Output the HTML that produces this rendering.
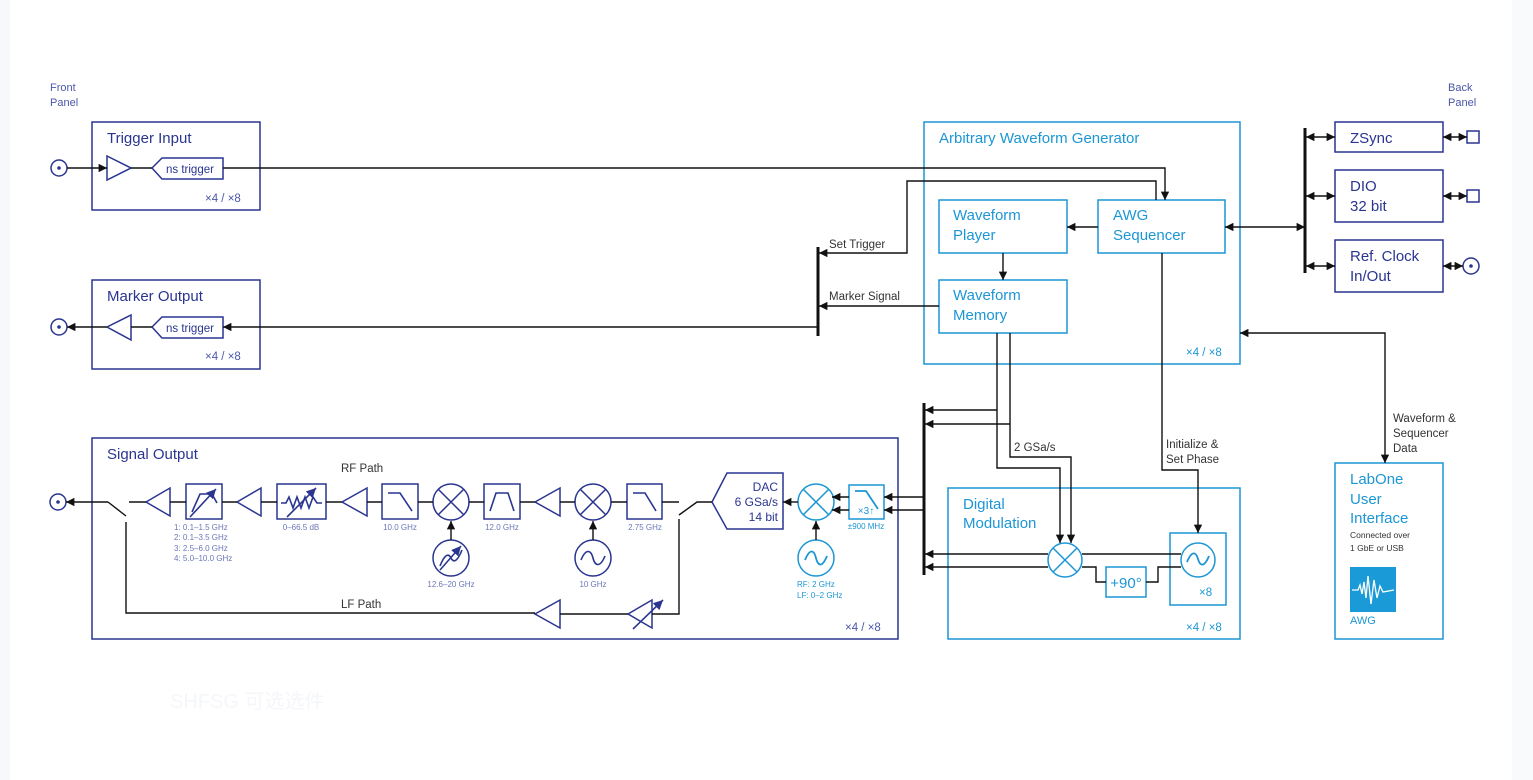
<!DOCTYPE html>
<html><head><meta charset="utf-8"><style>
html,body{margin:0;padding:0;background:#fff;width:1533px;height:780px;overflow:hidden}
svg{display:block}
text{font-family:"Liberation Sans","Noto Sans CJK SC",sans-serif}
</style></head><body>
<svg width="1533" height="780" viewBox="0 0 1533 780" xmlns="http://www.w3.org/2000/svg">
<defs>
<marker id="a" viewBox="0 0 10 10" refX="10" refY="5" markerWidth="6" markerHeight="6" orient="auto-start-reverse"><path d="M0,0 L10,5 L0,10z" fill="#111"/></marker>
<marker id="ab" viewBox="0 0 10 10" refX="10" refY="5" markerWidth="6" markerHeight="6" orient="auto-start-reverse"><path d="M0,0 L10,5 L0,10z" fill="#2a3590"/></marker>
</defs>
<rect x="0" y="0" width="10" height="780" fill="#f7f8fc"/>
<rect x="1512" y="0" width="21" height="780" fill="#f9fafc"/>
<text x="170" y="708" font-size="20" fill="#f4f6fa">SHFSG 可选选件</text>

<g fill="none" stroke="#2a3590" stroke-width="1.5">
<rect x="92" y="122" width="168" height="88"/>
<circle cx="59" cy="168" r="8"/>
<path d="M107,156 L131,168 L107,180z"/>
<path d="M152,168 L162,158 L223,158 L223,179 L162,179z"/>
<rect x="92" y="280" width="168" height="89"/>
<circle cx="59" cy="327" r="8"/>
<path d="M131,315 L107,327 L131,340z"/>
<path d="M152,327 L162,317 L223,317 L223,338 L162,338z"/>
<rect x="1335" y="122" width="108" height="30"/>
<rect x="1335" y="170" width="108" height="52"/>
<rect x="1335" y="240" width="108" height="52"/>
<rect x="1467" y="131" width="12" height="12"/>
<rect x="1467" y="190" width="12" height="12"/>
<circle cx="1471" cy="266" r="8"/>
<rect x="92" y="438" width="806" height="201"/>
<circle cx="58" cy="502" r="8"/>
<path d="M146,502 L170,488 L170,516z"/>
<rect x="186" y="484" width="36" height="35"/>
<path d="M237,502 L261,488 L261,516z"/>
<rect x="277" y="484" width="49" height="35"/>
<path d="M342,502 L367,488 L367,516z"/>
<rect x="382" y="484" width="36" height="35"/>
<circle cx="451" cy="502" r="18"/><path d="M438,489 L464,515 M464,489 L438,515"/>
<circle cx="451" cy="558" r="18"/>
<rect x="484" y="484" width="36" height="35"/>
<path d="M535,502 L560,488 L560,516z"/>
<circle cx="593" cy="502" r="18"/><path d="M580,489 L606,515 M606,489 L580,515"/>
<circle cx="593" cy="558" r="18"/>
<rect x="627" y="484" width="35" height="35"/>
<path d="M712,502 L727,473 L783,473 L783,529 L727,529z"/>
<path d="M535,614 L560,600 L560,628z"/>
<path d="M628,614 L652,600 L652,628z"/>
</g>
<g fill="none" stroke="#2a3590" stroke-width="1.6">
<path d="M192,512 L200,494 L212,494 L217,503"/>
<path d="M190,517 L216,489" marker-end="url(#ab)"/>
<path d="M281,503 L286,503 L289,497 L293,508 L297,497 L301,508 L305,497 L309,508 L313,497 L317,503 L322,503"/>
<path d="M287,517 L316,488" marker-end="url(#ab)"/>
<path d="M388,493 L400,493 L412,511"/>
<path d="M490,511 L496,493 L508,493 L514,511"/>
<path d="M633,493 L645,493 L656,511"/>
<path d="M440,566 C444,556 448,552 451,558 C454,564 458,560 462,550"/>
<path d="M440,570 L461,546" marker-end="url(#ab)"/>
<path d="M581,560 C586,548 591,550 593,558 C595,566 600,568 605,556"/>
<path d="M633,629 L663,600" marker-end="url(#ab)"/>
</g>

<g fill="none" stroke="#1c96d4" stroke-width="1.5">
<rect x="924" y="122" width="316" height="242"/>
<rect x="939" y="200" width="128" height="53"/>
<rect x="1098" y="200" width="127" height="53"/>
<rect x="939" y="280" width="128" height="53"/>
<rect x="948" y="488" width="292" height="151"/>
<circle cx="1065" cy="560" r="17"/><path d="M1053,548 L1077,572 M1077,548 L1053,572"/>
<rect x="1170" y="533" width="56" height="72"/>
<circle cx="1198" cy="560" r="17"/>
<path d="M1187,562 C1192,550 1196,552 1198,559 C1200,566 1204,568 1209,556" stroke-width="1.8"/>
<rect x="1106" y="567" width="40" height="30"/>
<rect x="1335" y="463" width="108" height="176"/>
<circle cx="816" cy="502" r="18"/><path d="M803,489 L829,515 M829,489 L803,515"/>
<circle cx="816" cy="558" r="18"/>
<path d="M805,560 C810,548 814,550 816,558 C818,566 822,568 827,556" stroke-width="1.8"/>
<rect x="849" y="485" width="35" height="34"/>
<path d="M855,491 L866,491 L878,509" stroke-width="1.8"/>
</g>
<rect x="1350" y="567" width="46" height="45" fill="#1a9ad6"/>
<path d="M1352,590 L1358,590 L1360,585 L1362,594 L1364,582 L1366,598 L1368,576 L1371,604 L1374,580 L1377,598 L1380,586 L1383,592 L1394,590" fill="none" stroke="#fff" stroke-width="1.3"/>

<g fill="none" stroke="#111" stroke-width="1.4">
<path d="M67,168 L107,168" marker-end="url(#a)"/>
<path d="M131,168 L152,168"/>
<path d="M223,168 L1165,168 L1165,200" marker-end="url(#a)"/>
<path d="M1156,200 L1156,181 L907,181 L907,253 L819,253" marker-end="url(#a)"/>
<path d="M939,306 L819,306" marker-end="url(#a)"/>
<path d="M818,327 L223,327" marker-end="url(#a)"/>
<path d="M152,327 L131,327"/>
<path d="M107,327 L67,327" marker-end="url(#a)"/>
<path d="M1098,227 L1067,227" marker-end="url(#a)"/>
<path d="M1003,253 L1003,280" marker-end="url(#a)"/>
<path d="M1225,227 L1305,227" marker-start="url(#a)" marker-end="url(#a)"/>
<path d="M1306,137 L1335,137" marker-start="url(#a)" marker-end="url(#a)"/>
<path d="M1306,196 L1335,196" marker-start="url(#a)" marker-end="url(#a)"/>
<path d="M1306,266 L1335,266" marker-start="url(#a)" marker-end="url(#a)"/>
<path d="M1443,137 L1467,137" marker-start="url(#a)" marker-end="url(#a)"/>
<path d="M1443,196 L1467,196" marker-start="url(#a)" marker-end="url(#a)"/>
<path d="M1443,266 L1463,266" marker-start="url(#a)" marker-end="url(#a)"/>
<path d="M1385,463 L1385,333 L1240,333" marker-start="url(#a)" marker-end="url(#a)"/>
<path d="M997,333 L997,468 L1060,468 L1060,543" marker-end="url(#a)"/>
<path d="M1010,333 L1010,457 L1071,457 L1071,543" marker-end="url(#a)"/>
<path d="M997,410 L925,410" marker-end="url(#a)"/>
<path d="M1010,424 L925,424" marker-end="url(#a)"/>
<path d="M1162,253 L1162,470 L1198,470 L1198,533" marker-end="url(#a)"/>
<path d="M1048,554 L925,554" marker-end="url(#a)"/>
<path d="M1048,567 L925,567" marker-end="url(#a)"/>
<path d="M1082,554 L1181,554"/>
<path d="M1082,567 L1096,567 L1096,582 L1106,582"/>
<path d="M1146,582 L1158,582 L1158,567 L1181,567"/>
<path d="M923,497 L884,497" marker-end="url(#a)"/>
<path d="M923,510 L884,510" marker-end="url(#a)"/>
<path d="M849,497 L832,497" marker-end="url(#a)"/>
<path d="M849,510 L832,510" marker-end="url(#a)"/>
<path d="M798,502 L783,502" marker-end="url(#a)"/>
<path d="M816,540 L816,521" marker-end="url(#a)"/>
<path d="M451,540 L451,521" marker-end="url(#a)"/>
<path d="M593,540 L593,521" marker-end="url(#a)"/>
<path d="M108,502 L66,502" marker-end="url(#a)"/>
<path d="M108,502 L126,516"/>
<path d="M129,502 L146,502 M170,502 L186,502 M222,502 L237,502 M261,502 L277,502 M326,502 L342,502 M367,502 L382,502 M418,502 L433,502 M469,502 L484,502 M520,502 L535,502 M560,502 L575,502 M611,502 L627,502 M662,502 L679,502"/>
<path d="M679,515 L697,502 L712,502"/>
<path d="M126,522 L126,613 L535,613 M560,614 L628,614 M652,614 L679,614 L679,519"/>
</g>
<g stroke="#111" stroke-width="3" fill="none">
<path d="M818,247 L818,336"/>
<path d="M1305,128 L1305,273"/>
<path d="M924,403 L924,575"/>
</g>
<circle cx="59" cy="168" r="1.8" fill="#2a3590"/>
<circle cx="59" cy="327" r="1.8" fill="#2a3590"/>
<circle cx="58" cy="502" r="1.8" fill="#2a3590"/>
<circle cx="1471" cy="266" r="1.8" fill="#2a3590"/>

<g fill="#2a3590">
<text x="50" y="91" font-size="11" fill="#4a57a8">Front</text>
<text x="50" y="106" font-size="11" fill="#4a57a8">Panel</text>
<text x="1448" y="91" font-size="11" fill="#4a57a8">Back</text>
<text x="1448" y="106" font-size="11" fill="#4a57a8">Panel</text>
<text x="107" y="143" font-size="15">Trigger Input</text>
<text x="166" y="173" font-size="11.5">ns trigger</text>
<text x="205" y="202" font-size="11.5" fill="#4a57a8">×4 / ×8</text>
<text x="107" y="301" font-size="15">Marker Output</text>
<text x="166" y="332" font-size="11.5">ns trigger</text>
<text x="205" y="360" font-size="11.5" fill="#4a57a8">×4 / ×8</text>
<text x="1350" y="143" font-size="15">ZSync</text>
<text x="1350" y="191" font-size="15">DIO</text>
<text x="1350" y="211" font-size="15">32 bit</text>
<text x="1350" y="261" font-size="15">Ref. Clock</text>
<text x="1350" y="281" font-size="15">In/Out</text>
<text x="107" y="459" font-size="15">Signal Output</text>
<text x="845" y="631" font-size="11.5" fill="#4a57a8">×4 / ×8</text>
<text x="778" y="491" font-size="12" text-anchor="end">DAC</text>
<text x="778" y="506" font-size="12" text-anchor="end">6 GSa/s</text>
<text x="778" y="521" font-size="12" text-anchor="end">14 bit</text>
</g>
<g fill="#6b77b8" font-size="8">
<text x="174" y="530">1: 0.1–1.5 GHz</text>
<text x="174" y="540">2: 0.1–3.5 GHz</text>
<text x="174" y="551">3: 2.5–6.0 GHz</text>
<text x="174" y="561">4: 5.0–10.0 GHz</text>
<text x="301" y="530" text-anchor="middle">0–66.5 dB</text>
<text x="400" y="530" text-anchor="middle">10.0 GHz</text>
<text x="451" y="587" text-anchor="middle">12.6–20 GHz</text>
<text x="502" y="530" text-anchor="middle">12.0 GHz</text>
<text x="593" y="587" text-anchor="middle">10 GHz</text>
<text x="645" y="530" text-anchor="middle">2.75 GHz</text>
</g>
<g fill="#1c96d4">
<text x="797" y="587" font-size="8">RF: 2 GHz</text>
<text x="797" y="598" font-size="8">LF: 0–2 GHz</text>
<text x="866" y="529" font-size="8" text-anchor="middle">±900 MHz</text>
<text x="866" y="514" font-size="10" text-anchor="middle">×3↑</text>
<text x="939" y="143" font-size="15">Arbitrary Waveform Generator</text>
<text x="953" y="220" font-size="15">Waveform</text>
<text x="953" y="240" font-size="15">Player</text>
<text x="1113" y="220" font-size="15">AWG</text>
<text x="1113" y="240" font-size="15">Sequencer</text>
<text x="953" y="300" font-size="15">Waveform</text>
<text x="953" y="320" font-size="15">Memory</text>
<text x="1186" y="356" font-size="11.5">×4 / ×8</text>
<text x="963" y="509" font-size="15">Digital</text>
<text x="963" y="528" font-size="15">Modulation</text>
<text x="1126" y="588" font-size="15" text-anchor="middle">+90°</text>
<text x="1199" y="596" font-size="11.5">×8</text>
<text x="1186" y="631" font-size="11.5">×4 / ×8</text>
<text x="1350" y="484" font-size="15">LabOne</text>
<text x="1350" y="504" font-size="15">User</text>
<text x="1350" y="523" font-size="15">Interface</text>
<text x="1350" y="624" font-size="11">AWG</text>
</g>
<g fill="#333" font-size="11.5">
<text x="829" y="248">Set Trigger</text>
<text x="829" y="300">Marker Signal</text>
<text x="1014" y="451">2 GSa/s</text>
<text x="1166" y="448">Initialize &amp;</text>
<text x="1166" y="463">Set Phase</text>
<text x="1393" y="422">Waveform &amp;</text>
<text x="1393" y="437">Sequencer</text>
<text x="1393" y="452">Data</text>
<text x="341" y="472" font-size="11.5">RF Path</text>
<text x="341" y="608" font-size="11.5">LF Path</text>
<text x="1350" y="538" font-size="8.5">Connected over</text>
<text x="1350" y="551" font-size="8.5">1 GbE or USB</text>
</g>
</svg>
</body></html>
